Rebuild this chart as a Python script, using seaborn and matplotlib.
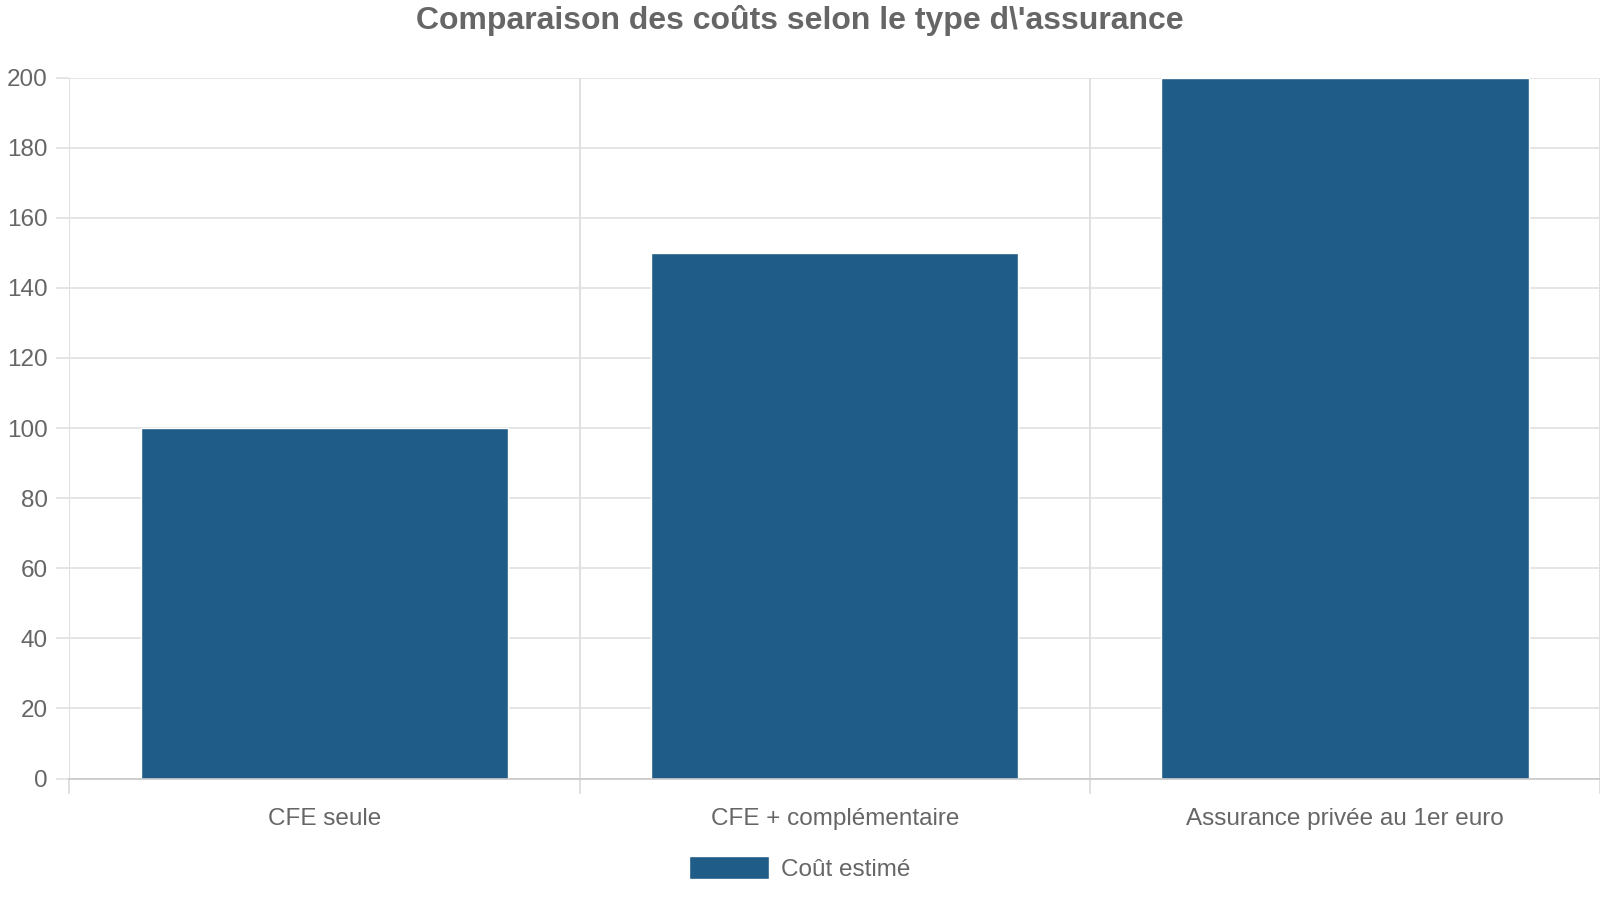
import matplotlib
matplotlib.use("Agg")
import matplotlib.pyplot as plt
import seaborn as sns
import pandas as pd

# Données
categories = ["CFE seule", "CFE + complémentaire", "Assurance privée au 1er euro"]
couts = [100, 150, 200]
serie = "Coût estimé"

df = pd.DataFrame({"type": categories, "cout": couts, "serie": serie})

sns.set_theme(style="white")
plt.rcParams['font.family'] = ['Liberation Sans', 'DejaVu Sans']

gris = "#666666"
grille = "#e0e0e0"
bleu = "#1f5c87"

fig = plt.figure(figsize=(16, 9), dpi=100)
ax = fig.add_axes([0.0434, 0.135, 0.9566, 0.7788])

sns.barplot(data=df, x="type", y="cout", hue="serie", palette=[bleu],
            width=0.72, saturation=1, ax=ax, legend=True, zorder=3)

ax.set_xlim(-0.5, len(categories) - 0.5)
ax.set_ylim(0, 200)
ax.set_yticks(range(0, 201, 20))
ax.set_xlabel("")
ax.set_ylabel("")

# grille horizontale + verticale entre catégories
ax.set_xticks([i - 0.5 for i in range(len(categories) + 1)], minor=True)
ax.grid(axis="y", color=grille, linewidth=1.2, zorder=0)
ax.grid(axis="x", which="minor", color="#dadada", linewidth=1.2, zorder=0)
ax.set_axisbelow(True)

for s in ["top", "right", "left"]:
    ax.spines[s].set_visible(False)
ax.spines["bottom"].set_color("#c8c8c8")
ax.spines["bottom"].set_linewidth(1.2)
ax.spines["bottom"].set_zorder(4)

ax.tick_params(axis="x", which="major", length=0, pad=21, labelsize=17.5, labelcolor=gris)
ax.tick_params(axis="x", which="minor", length=11, width=1.2, color="#dadada", bottom=True)
ax.tick_params(axis="y", length=9.5, width=1.2, color=grille, left=True, pad=6,
               labelsize=17.5, labelcolor=gris)

fig.suptitle("Comparaison des coûts selon le type d\\'assurance", x=0.5, y=0.994,
             fontsize=23, fontweight="bold", color=gris)

ax.legend_.remove()
leg = fig.legend(*ax.get_legend_handles_labels(), loc="center", bbox_to_anchor=(0.5, 0.035),
                 frameon=False, fontsize=17.5, handlelength=3.3, handleheight=1.05,
                 handletextpad=0.5, labelcolor=gris)

fig.savefig("out.png", dpi=100, facecolor="white")
